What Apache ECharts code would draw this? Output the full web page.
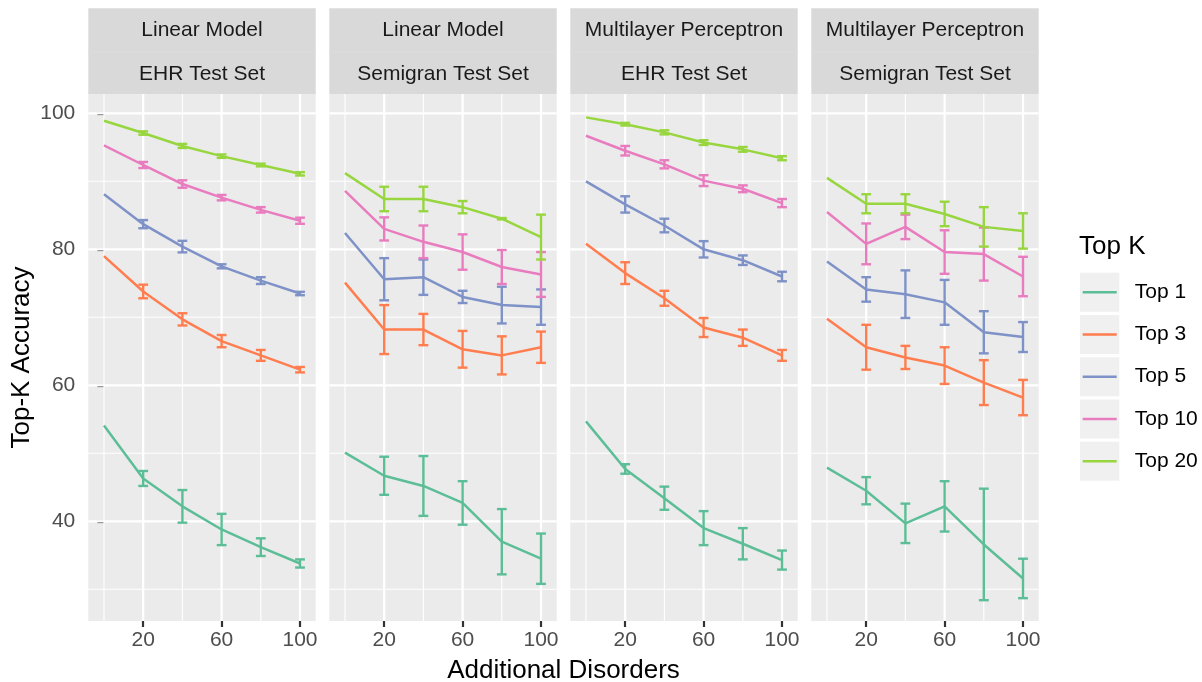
<!DOCTYPE html>
<html>
<head>
<meta charset="utf-8">
<script src="https://cdn.jsdelivr.net/npm/echarts@6/dist/echarts.min.js"></script>
<style>
html,body{margin:0;padding:0;background:#fff;}
#chart{width:1202px;height:682px;}
</style>
</head>
<body>
<div id="chart"></div>
<script>
// ---------------- DATA ----------------
const xValues = [0, 20, 40, 60, 80, 100];
const topKNames = ['Top 1', 'Top 3', 'Top 5', 'Top 10', 'Top 20'];
const panelLine1 = ['Linear Model', 'Linear Model', 'Multilayer Perceptron', 'Multilayer Perceptron'];
const panelLine2 = ['EHR Test Set', 'Semigran Test Set', 'EHR Test Set', 'Semigran Test Set'];
const yTickValues = [40, 60, 80, 100];
const yMinorValues = [30, 50, 70, 90];
const xTickValues = [20, 60, 100];
const xMinorValues = [0, 40, 80];

// Linear Model, EHR
const linEhrTop1 = [54.1, 46.3, 42.2, 38.8, 36.2, 33.8];
const linEhrTop1Err = [null, 1.1, 2.4, 2.3, 1.3, 0.6];
const linEhrTop3 = [79.0, 73.8, 69.7, 66.5, 64.4, 62.3];
const linEhrTop3Err = [null, 1.0, 0.9, 0.9, 0.8, 0.4];
const linEhrTop5 = [88.1, 83.7, 80.4, 77.5, 75.4, 73.5];
const linEhrTop5Err = [null, 0.6, 0.85, 0.3, 0.5, 0.25];
const linEhrTop10 = [95.3, 92.4, 89.6, 87.6, 85.8, 84.2];
const linEhrTop10Err = [null, 0.45, 0.55, 0.4, 0.4, 0.45];
const linEhrTop20 = [98.9, 97.1, 95.2, 93.7, 92.4, 91.1];
const linEhrTop20Err = [null, 0.25, 0.3, 0.25, 0.2, 0.25];

// Linear Model, Semigran
const linSemTop1 = [50.1, 46.7, 45.2, 42.7, 37.0, 34.5];
const linSemTop1Err = [null, 2.8, 4.4, 3.2, 4.8, 3.7];
const linSemTop3 = [75.1, 68.2, 68.2, 65.3, 64.4, 65.6];
const linSemTop3Err = [null, 3.6, 2.3, 2.7, 2.8, 2.3];
const linSemTop5 = [82.4, 75.6, 75.9, 73.0, 71.8, 71.5];
const linSemTop5Err = [null, 3.1, 2.6, 0.9, 2.7, 2.6];
const linSemTop10 = [88.6, 83.0, 81.1, 79.6, 77.4, 76.3];
const linSemTop10Err = [null, 1.7, 2.4, 2.6, 2.5, 3.3];
const linSemTop20 = [91.2, 87.4, 87.4, 86.2, 84.5, 81.8];
const linSemTop20Err = [null, 1.8, 1.8, 0.9, 0.1, 3.3];

// Multilayer Perceptron, EHR
const mlpEhrTop1 = [54.7, 47.7, 43.4, 39.0, 36.7, 34.3];
const mlpEhrTop1Err = [null, 0.7, 1.7, 2.5, 2.3, 1.4];
const mlpEhrTop3 = [80.8, 76.5, 72.8, 68.5, 67.0, 64.4];
const mlpEhrTop3Err = [null, 1.6, 1.1, 1.4, 1.2, 0.8];
const mlpEhrTop5 = [90.0, 86.6, 83.5, 80.0, 78.4, 76.0];
const mlpEhrTop5Err = [null, 1.2, 1.0, 1.2, 0.7, 0.7];
const mlpEhrTop10 = [96.7, 94.5, 92.5, 90.1, 88.9, 86.8];
const mlpEhrTop10Err = [null, 0.7, 0.6, 0.8, 0.5, 0.6];
const mlpEhrTop20 = [99.4, 98.4, 97.2, 95.7, 94.7, 93.4];
const mlpEhrTop20Err = [null, 0.2, 0.3, 0.35, 0.35, 0.3];

// Multilayer Perceptron, Semigran
const mlpSemTop1 = [47.9, 44.5, 39.7, 42.2, 36.6, 31.6];
const mlpSemTop1Err = [null, 2.0, 2.9, 3.7, 8.2, 2.9];
const mlpSemTop3 = [69.8, 65.6, 64.1, 62.9, 60.4, 58.2];
const mlpSemTop3Err = [null, 3.3, 1.7, 2.7, 3.3, 2.6];
const mlpSemTop5 = [78.2, 74.1, 73.4, 72.2, 67.8, 67.1];
const mlpSemTop5Err = [null, 1.8, 3.5, 3.3, 3.1, 2.2];
const mlpSemTop10 = [85.5, 80.8, 83.3, 79.6, 79.3, 76.0];
const mlpSemTop10Err = [null, 3.0, 1.8, 3.2, 3.9, 2.9];
const mlpSemTop20 = [90.5, 86.7, 86.7, 85.2, 83.3, 82.7];
const mlpSemTop20Err = [null, 1.4, 1.4, 1.8, 2.9, 2.6];

// ---------------- BUILD ----------------
const colors = ['#5CBE97', '#FF7D4E', '#7F92C8', '#E87CBF', '#98D63F'];
const panelMeans = [
  [linEhrTop1, linEhrTop3, linEhrTop5, linEhrTop10, linEhrTop20],
  [linSemTop1, linSemTop3, linSemTop5, linSemTop10, linSemTop20],
  [mlpEhrTop1, mlpEhrTop3, mlpEhrTop5, mlpEhrTop10, mlpEhrTop20],
  [mlpSemTop1, mlpSemTop3, mlpSemTop5, mlpSemTop10, mlpSemTop20]
];
const panelErrs = [
  [linEhrTop1Err, linEhrTop3Err, linEhrTop5Err, linEhrTop10Err, linEhrTop20Err],
  [linSemTop1Err, linSemTop3Err, linSemTop5Err, linSemTop10Err, linSemTop20Err],
  [mlpEhrTop1Err, mlpEhrTop3Err, mlpEhrTop5Err, mlpEhrTop10Err, mlpEhrTop20Err],
  [mlpSemTop1Err, mlpSemTop3Err, mlpSemTop5Err, mlpSemTop10Err, mlpSemTop20Err]
];

const FONT = '"Liberation Sans", Arial, Helvetica, sans-serif';
const panelLeft0 = 88.3, panelStep = 241, panelW = 227.4;
const panelTop = 94, panelH = 527;
const stripTop = 8.3;
const X_MIN = -8, X_MAX = 108, Y_MIN = 25.34, Y_MAX = 102.84;
const CAP_HALF = 2.5;

const grids = [], xAxes = [], yAxes = [], series = [], graphics = [];

for (let p = 0; p < 4; p++) {
  const left = panelLeft0 + p * panelStep;
  grids.push({left: left, top: panelTop, width: panelW, height: panelH,
    show: true, backgroundColor: '#EBEBEB', borderWidth: 0});
  xAxes.push({type: 'value', gridIndex: p, min: X_MIN, max: X_MAX,
    axisLine: {show: false}, splitLine: {show: false},
    axisTick: {show: true, customValues: xTickValues, length: 6, lineStyle: {color: '#333333', width: 2.2}},
    axisLabel: {show: true, customValues: xTickValues, margin: 9, color: '#4D4D4D', fontSize: 21, fontFamily: FONT}
  });
  yAxes.push({type: 'value', gridIndex: p, min: Y_MIN, max: Y_MAX,
    axisLine: {show: false}, splitLine: {show: false},
    axisTick: {show: p === 0, customValues: yTickValues, length: 6.6, lineStyle: {color: '#333333', width: 2.2}},
    axisLabel: {show: p === 0, customValues: yTickValues, margin: 13, color: '#4D4D4D', fontSize: 21, fontFamily: FONT}
  });

  // gridlines (through axis scales)
  const hLines = yMinorValues.map(v => [0, v, 1.1]).concat(yTickValues.map(v => [0, v, 2.2]));
  const vLines = xMinorValues.map(v => [v, 50, 1.1]).concat(xTickValues.map(v => [v, 50, 2.2]));
  series.push({type: 'custom', xAxisIndex: p, yAxisIndex: p, silent: true, z: 1,
    data: hLines, clip: false,
    renderItem: function (params, api) {
      const cs = params.coordSys;
      const y = api.coord([api.value(0), api.value(1)])[1];
      return {type: 'line', shape: {x1: cs.x, y1: y, x2: cs.x + cs.width, y2: y},
        style: {stroke: '#FFFFFF', lineWidth: api.value(2)}};
    }});
  series.push({type: 'custom', xAxisIndex: p, yAxisIndex: p, silent: true, z: 1,
    data: vLines, clip: false,
    renderItem: function (params, api) {
      const cs = params.coordSys;
      const x = api.coord([api.value(0), api.value(1)])[0];
      return {type: 'line', shape: {x1: x, y1: cs.y, x2: x, y2: cs.y + cs.height},
        style: {stroke: '#FFFFFF', lineWidth: api.value(2)}};
    }});

  for (let k = 0; k < 5; k++) {
    const means = panelMeans[p][k], errs = panelErrs[p][k];
    series.push({type: 'line', name: topKNames[k], xAxisIndex: p, yAxisIndex: p, z: 3,
      data: xValues.map((x, i) => [x, means[i]]),
      showSymbol: false, symbol: 'none', lineStyle: {color: colors[k], width: 2.5},
      itemStyle: {color: colors[k]}, animation: false});
    const eb = [];
    xValues.forEach((x, i) => { if (errs[i] != null) eb.push([x, means[i] - errs[i], means[i] + errs[i]]); });
    series.push({type: 'custom', name: 'eb' + p + '_' + k, xAxisIndex: p, yAxisIndex: p, z: 3,
      data: eb, encode: {x: 0, y: [1, 2]}, animation: false,
      renderItem: (function (col) {
        return function (params, api) {
          const x = api.value(0);
          const lo = api.coord([x, api.value(1)]);
          const hi = api.coord([x, api.value(2)]);
          const xl = api.coord([x - CAP_HALF, api.value(1)])[0];
          const xr = api.coord([x + CAP_HALF, api.value(1)])[0];
          const st = {stroke: col, lineWidth: 2.4};
          return {type: 'group', children: [
            {type: 'line', shape: {x1: lo[0], y1: lo[1], x2: hi[0], y2: hi[1]}, style: st},
            {type: 'line', shape: {x1: xl, y1: lo[1], x2: xr, y2: lo[1]}, style: st},
            {type: 'line', shape: {x1: xl, y1: hi[1], x2: xr, y2: hi[1]}, style: st}
          ]};
        };
      })(colors[k])
    });
  }

  // strips
  graphics.push({type: 'rect', shape: {x: left, y: stripTop, width: panelW, height: panelTop - stripTop},
    style: {fill: '#D9D9D9'}, silent: true});
  graphics.push({type: 'line', shape: {x1: left, y1: 51.7, x2: left + panelW, y2: 51.7},
    style: {stroke: '#DCDCDC', lineWidth: 1}, silent: true});
  graphics.push({type: 'text', x: left + panelW / 2, y: 30.7,
    style: {text: panelLine1[p], font: '21px ' + FONT, fill: '#1A1A1A', align: 'center', verticalAlign: 'middle'}});
  graphics.push({type: 'text', x: left + panelW / 2, y: 74,
    style: {text: panelLine2[p], font: '21px ' + FONT, fill: '#1A1A1A', align: 'center', verticalAlign: 'middle'}});
}

// axis titles
graphics.push({type: 'text', x: panelLeft0 + (3 * panelStep + panelW) / 2, y: 671,
  style: {text: 'Additional Disorders', font: '26px ' + FONT, fill: '#000000', align: 'center', verticalAlign: 'middle'}});
graphics.push({type: 'text', x: 22, y: panelTop + panelH / 2, rotation: Math.PI / 2,
  style: {text: 'Top-K Accuracy', font: '26px ' + FONT, fill: '#000000', align: 'center', verticalAlign: 'middle'}});

// legend title and key backgrounds
graphics.push({type: 'text', x: 1079, y: 247,
  style: {text: 'Top K', font: '26px ' + FONT, fill: '#000000', align: 'left', verticalAlign: 'middle'}});
for (let k = 0; k < 5; k++) {
  graphics.push({type: 'rect', shape: {x: 1080, y: 272.7 + 42.25 * k, width: 39.3, height: 39},
    style: {fill: '#F0F0F0'}, z: -1, silent: true});
}

const chart = echarts.init(document.getElementById('chart'), null, {renderer: 'canvas'});
chart.setOption({
  animation: false,
  backgroundColor: '#FFFFFF',
  grid: grids,
  xAxis: xAxes,
  yAxis: yAxes,
  legend: {
    data: topKNames.map(n => ({name: n, icon: 'rect'})),
    orient: 'vertical', left: 1082.7, top: 280.2, padding: 0,
    itemWidth: 34, itemHeight: 2.5, itemGap: 18.25,
    selectedMode: false,
    textStyle: {fontSize: 21, lineHeight: 24, color: '#000000', fontFamily: FONT, padding: [0, 0, 0, 13]}
  },
  graphic: {elements: graphics},
  series: series
});
</script>
</body>
</html>
